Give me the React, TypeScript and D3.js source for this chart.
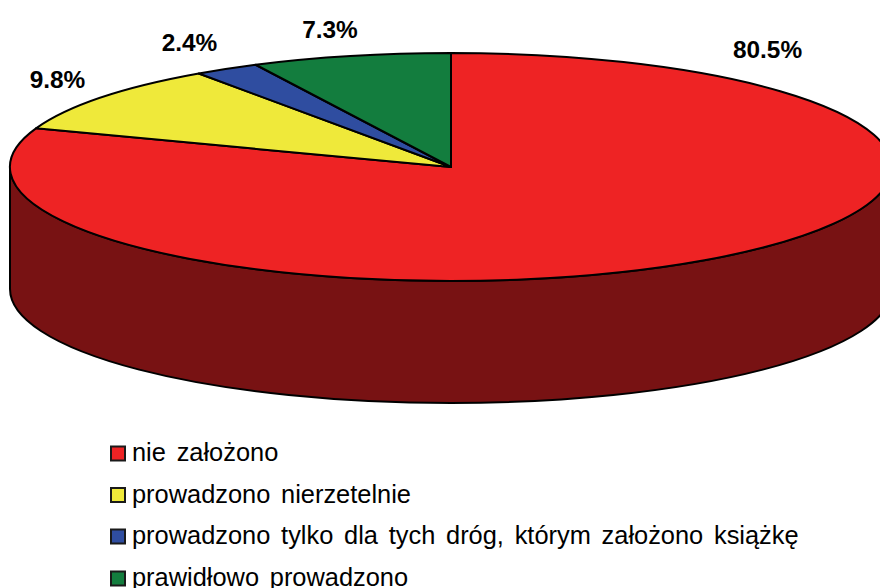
import React from "react";
import * as d3 from "d3";

const categories = ["nie założono", "prowadzono nierzetelnie", "prowadzono tylko dla tych dróg, którym założono książkę", "prawidłowo prowadzono"];
const values = [80.5, 9.8, 2.4, 7.3];
const colors = ["#ee2324", "#efe93a", "#2f4da0", "#137d3e"];
const sideColor = "#781213";
const valueLabels = ["80.5%", "9.8%", "2.4%", "7.3%"];
const labelAnchors = [[767.5, 58], [57.5, 88], [189.5, 51], [330, 38]];
const legendBaseline = [461, 502.5, 544, 586];

const W = 880, H = 588;
const cx = 451, cy = 167, rx = 441, ry = 114, depth = 122;
const FONT = "'Liberation Sans', Arial, sans-serif";

export default function App() {
  const pie = d3.pie<number>().sort(null).value((d) => d).startAngle(0).endAngle(2 * Math.PI);
  const arcs = pie(values);
  const unitArc = d3.arc<d3.PieArcDatum<number>>().innerRadius(0).outerRadius(1);
  const side = `M${cx - rx},${cy} A${rx},${ry} 0 0 0 ${cx + rx},${cy} L${cx + rx},${cy + depth} A${rx},${ry} 0 0 1 ${cx - rx},${cy + depth} Z`;
  const legendX = d3.scaleLinear().domain([0, 1]).range([111, 132]);
  return (
    <svg width={W} height={H} viewBox={`0 0 ${W} ${H}`} style={{ position: "absolute", left: 0, top: 0, background: "#fff" }}>
      <path d={side} fill={sideColor} stroke="#000" strokeWidth={2} />
      <g transform={`translate(${cx},${cy}) scale(${rx},${ry})`}>
        {arcs.map((a, i) => (
          <path key={i} d={unitArc(a) ?? ""} fill={colors[i]} stroke="#000" strokeWidth={2} strokeLinejoin="round" vectorEffect="non-scaling-stroke" />
        ))}
      </g>
      {valueLabels.map((t, i) => (
        <text key={t} x={labelAnchors[i][0]} y={labelAnchors[i][1]} textAnchor="middle" fontFamily={FONT} fontWeight="bold" fontSize={24.4} fill="#000">{t}</text>
      ))}
      {categories.map((c, i) => (
        <g key={c}>
          <rect x={legendX(0)} y={legendBaseline[i] - 14.5} width={14} height={14} fill={colors[i]} stroke="#1a1a1a" strokeWidth={2} />
          <text x={legendX(1)} y={legendBaseline[i]} fontFamily={FONT} fontSize={25.4} wordSpacing={3.7} fill="#000">{c}</text>
        </g>
      ))}
    </svg>
  );
}
